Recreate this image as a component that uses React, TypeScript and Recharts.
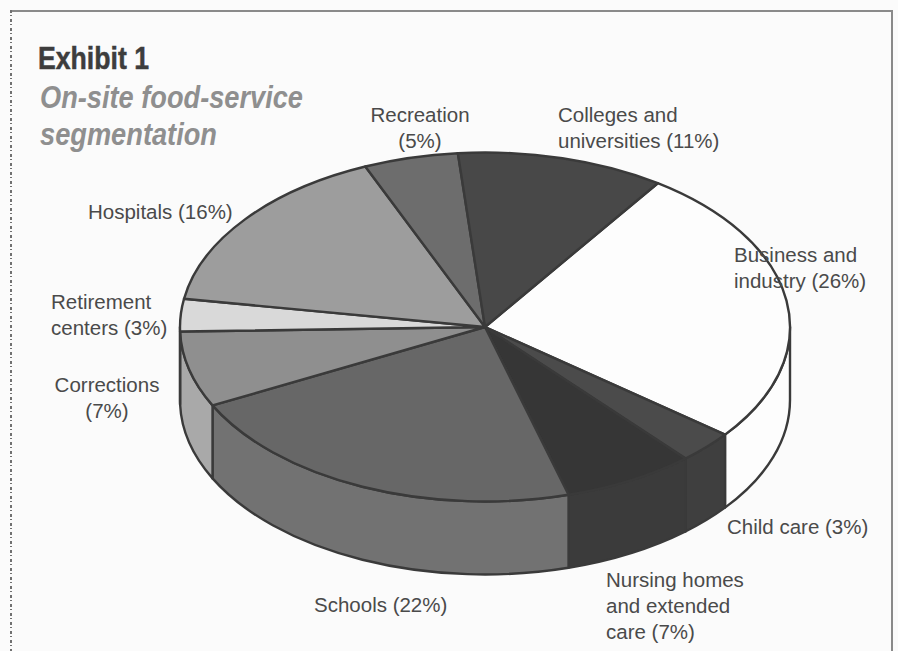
import React from 'react';
import { PieChart, Pie, Cell } from 'recharts';

// Segments run clockwise from the Business and industry edge
const CATEGORIES = [
  'Business and industry',
  'Child care',
  'Nursing homes and extended care',
  'Schools',
  'Corrections',
  'Retirement centers',
  'Hospitals',
  'Recreation',
  'Colleges and universities',
];
const SHARES = [26, 3, 7, 22, 7, 3, 16, 5, 11];
const LABEL_LINES = [
  ['Business and', 'industry (26%)'],
  ['Child care (3%)'],
  ['Nursing homes', 'and extended', 'care (7%)'],
  ['Schools (22%)'],
  ['Corrections', '(7%)'],
  ['Retirement', 'centers (3%)'],
  ['Hospitals (16%)'],
  ['Recreation', '(5%)'],
  ['Colleges and', 'universities (11%)'],
];
const TOP_COLORS = ['#fdfdfd', '#4b4b4b', '#363636', '#676767', '#8f8f8f', '#d9d9d9', '#9d9d9d', '#6d6d6d', '#484848'];
const WALL_COLORS = ['#fdfdfd', '#3f3f3f', '#3b3b3b', '#727272', '#a9a9a9', '#a9a9a9', '#9d9d9d', '#6d6d6d', '#484848'];

const chartData = CATEGORIES.map((name, i) => ({ name, value: SHARES[i] }));

const WIDTH = 898;
const HEIGHT = 651;
const CX = 485;
const CY = 327;
const RADIUS = 305;
const SQUASH = 0.572; // vertical flattening of the disc
const DEPTH = 73;
const EDGE = '#3a3a3a';
const RAD = Math.PI / 180;

// Where each label block sits: left x (or centre x), first baseline
const LABEL_SPOTS: { x: number; y: number; anchor: 'start' | 'middle' }[] = [
  { x: 734, y: 262, anchor: 'start' },
  { x: 727, y: 534, anchor: 'start' },
  { x: 606, y: 587, anchor: 'start' },
  { x: 314, y: 612, anchor: 'start' },
  { x: 107, y: 392, anchor: 'middle' },
  { x: 51, y: 309, anchor: 'start' },
  { x: 88, y: 219, anchor: 'start' },
  { x: 420, y: 122, anchor: 'middle' },
  { x: 558, y: 122, anchor: 'start' },
];

const rimPoint = (cx: number, cy: number, r: number, deg: number) => ({
  x: cx + r * Math.cos(deg * RAD),
  y: cy - r * SQUASH * Math.sin(deg * RAD),
});

// Flattened sector plus, for the front half of the disc, its side wall
const DiscSlice = (props: any) => {
  const { cx, cy, outerRadius: r, startAngle, endAngle, index } = props;
  const ry = r * SQUASH;
  const a = rimPoint(cx, cy, r, startAngle);
  const b = rimPoint(cx, cy, r, endAngle);
  const large = startAngle - endAngle > 180 ? 1 : 0;
  const top = `M${cx},${cy} L${a.x},${a.y} A${r},${ry} 0 ${large} 1 ${b.x},${b.y} Z`;

  const wallStart = Math.min(startAngle, 0);
  const wallEnd = Math.max(endAngle, -180);
  let wall = null;
  if (wallStart > wallEnd) {
    const p = rimPoint(cx, cy, r, wallStart);
    const q = rimPoint(cx, cy, r, wallEnd);
    const d =
      `M${p.x},${p.y} A${r},${ry} 0 0 1 ${q.x},${q.y} L${q.x},${q.y + DEPTH} ` +
      `A${r},${ry} 0 0 0 ${p.x},${p.y + DEPTH} Z`;
    wall = <path d={d} fill={WALL_COLORS[index]} stroke={EDGE} strokeWidth={2.4} strokeLinejoin="round" />;
  }
  return (
    <g>
      {wall}
      <path d={top} fill={TOP_COLORS[index]} stroke={EDGE} strokeWidth={2.4} strokeLinejoin="round" />
    </g>
  );
};

const renderLabel = ({ index }: any) => {
  const spot = LABEL_SPOTS[index];
  return (
    <text
      key={index}
      x={spot.x}
      y={spot.y}
      textAnchor={spot.anchor}
      fill="#4a4a4a"
      style={{ fontFamily: '"Liberation Sans", Arial, sans-serif', fontSize: 20.5 }}
    >
      {LABEL_LINES[index].map((line, i) => (
        <tspan key={line} x={spot.x} dy={i === 0 ? 0 : 26}>
          {line}
        </tspan>
      ))}
    </text>
  );
};

export default function App() {
  return (
    <div style={{ position: 'absolute', left: 0, top: 0, width: WIDTH, height: HEIGHT, background: '#fbfbfb', overflow: 'hidden' }}>
      <svg width={WIDTH} height={HEIGHT} style={{ position: 'absolute', left: 0, top: 0 }}>
        <path d={`M12,11 H892 V${HEIGHT}`} fill="none" stroke="#8a8a8a" strokeWidth={2} />
        <line x1={11} y1={10} x2={11} y2={HEIGHT} stroke="#444" strokeWidth={1.5} strokeDasharray="3 2 1 3" />
        <g style={{ fontFamily: '"Liberation Sans", Arial, sans-serif', fontWeight: 700 }}>
          <text x={38} y={69} fontSize={31} fill="#3d3d3d" stroke="#3d3d3d" strokeWidth={0.5} textLength={111} lengthAdjust="spacingAndGlyphs">
            Exhibit 1
          </text>
          <text x={40} y={108} fontSize={32} fontStyle="italic" fill="#8f8f8f" textLength={263} lengthAdjust="spacingAndGlyphs">
            On-site food-service
          </text>
          <text x={40} y={145} fontSize={32} fontStyle="italic" fill="#8f8f8f" textLength={177} lengthAdjust="spacingAndGlyphs">
            segmentation
          </text>
        </g>
      </svg>
      <div style={{ position: 'absolute', left: 0, top: 0 }}>
        <PieChart width={WIDTH} height={HEIGHT} margin={{ top: 0, right: 0, bottom: 0, left: 0 }}>
          <Pie
            data={chartData}
            dataKey="value"
            nameKey="name"
            cx={CX}
            cy={CY}
            innerRadius={0}
            outerRadius={RADIUS}
            startAngle={55.5}
            endAngle={-304.5}
            paddingAngle={0}
            shape={DiscSlice}
            label={renderLabel}
            labelLine={false}
            isAnimationActive={false}
            stroke={EDGE}
          >
            {chartData.map((entry, i) => (
              <Cell key={entry.name} fill={TOP_COLORS[i]} />
            ))}
          </Pie>
        </PieChart>
      </div>
    </div>
  );
}
